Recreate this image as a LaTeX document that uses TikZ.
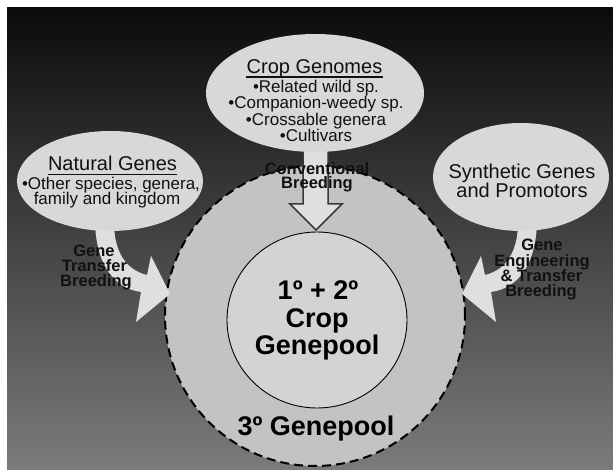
\documentclass[tikz,border=0pt]{standalone}
\usepackage{fontspec}
\setmainfont{Liberation Sans}
\usetikzlibrary{shapes.geometric}
\definecolor{bgtop}{HTML}{0B0B0B}
\definecolor{bgbot}{HTML}{7B7B7B}
\definecolor{poolout}{HTML}{C3C3C3}
\definecolor{poolin}{HTML}{D3D3D3}
\definecolor{bubblefill}{HTML}{D8D8D8}
\definecolor{arrowfill}{HTML}{DFDFDF}
\definecolor{arrowline}{HTML}{3A3A3A}
\definecolor{ink}{HTML}{111111}
\begin{document}
\begin{tikzpicture}[x=1pt,y=-1pt,
  bubble/.style={ellipse, fill=bubblefill, inner sep=0pt},
  ttl/.style={font=\fontsize{20}{22}\selectfont, text=ink, inner sep=0pt, anchor=base},
  bul/.style={font=\fontsize{17}{19}\selectfont, text=ink, inner sep=0pt, anchor=base},
  lbl/.style={font=\bfseries\fontsize{16.5}{16.5}\selectfont, text=ink, inner sep=0pt, anchor=base},
  big/.style={font=\bfseries\fontsize{27}{27}\selectfont, text=black, inner sep=0pt, anchor=base},
  blockarrow/.style={fill=arrowfill},
  uline/.style={line width=1.3pt, draw=ink},
]
\useasboundingbox (0,0) rectangle (613,470);
\fill[white] (0,0) rectangle (613,470);
\shade[top color=bgtop, bottom color=bgbot] (7,8) rectangle (613,470);

% gene pools
\node[circle, minimum size=300pt, fill=poolout, draw=black, line width=2pt,
      dash pattern=on 9pt off 5pt] (tertiary) at (315,316) {};
\node[ellipse, minimum width=180pt, minimum height=176pt, fill=poolin,
      draw=black, line width=0.9pt] (primary) at (317,320) {};

% block arrows
\draw[blockarrow, draw=arrowline, line width=1.5pt, line join=miter]
  (303,148) -- (303,204) -- (290,204) -- (316,230) -- (342,204) -- (328,204) -- (328,148);
\fill[blockarrow]
  (95,222) .. controls (96,262) and (112,288) .. (141,292)
  -- (136,322) -- (170,294) -- (151,256) -- (147,275)
  .. controls (126,270) and (114,252) .. (114,222) -- cycle;
\fill[blockarrow]
  (537,222) .. controls (536,262) and (520,288) .. (491,292)
  -- (496,322) -- (462,294) -- (481,256) -- (485,275)
  .. controls (506,270) and (518,252) .. (518,222) -- cycle;

% source ellipses
\node[bubble, minimum width=218pt, minimum height=118pt] (crop) at (315,93) {};
\node[bubble, minimum width=186pt, minimum height=100pt] (natural) at (110,181) {};
\node[bubble, minimum width=176pt, minimum height=108pt] (synthetic) at (521,177) {};

% crop genomes text
\node[ttl] (croptitle) at (314.5,73.5) {Crop Genomes};
\draw[uline] ([yshift=-3.5pt]croptitle.base west) -- ([yshift=-3.5pt]croptitle.base east);
\node[bul] (crop1) at (316,93) {•Related wild sp.};
\node[bul] (crop2) at (316,109) {•Companion-weedy sp.};
\node[bul] (crop3) at (316,126) {•Crossable genera};
\node[bul] (crop4) at (316,142) {•Cultivars};

% natural genes text
\node[ttl] (nattitle) at (112.5,171) {Natural Genes};
\draw[uline] ([yshift=-3.5pt]nattitle.base west) -- ([yshift=-3.5pt]nattitle.base east);
\node[bul] (nat1) at (111,190) {•Other species, genera,};
\node[bul] (nat2) at (107,205) {family and kingdom};

% synthetic text
\node[ttl] (syn1) at (522,179) {Synthetic Genes};
\node[ttl] (syn2) at (522,198) {and Promotors};

% arrow labels
\node[lbl] (conv1) at (317,175) {Conventional};
\node[lbl] (conv2) at (317,189) {Breeding};
\node[lbl] (gt1) at (94,257) {Gene};
\node[lbl] (gt2) at (94.5,272) {Transfer};
\node[lbl] (gt3) at (96,287) {Breeding};
\node[lbl] (ge1) at (542,251) {Gene};
\node[lbl] (ge2) at (542,267) {Engineering};
\node[lbl] (ge3) at (541.5,282) {\& Transfer};
\node[lbl] (ge4) at (541,297) {Breeding};

% pool labels
\node[big] (p1) at (318,300) {1º + 2º};
\node[big] (p2) at (317,327) {Crop};
\node[big] (p3) at (317,354) {Genepool};
\node[big] (t1) at (316,435) {3º Genepool};
\end{tikzpicture}
\end{document}
